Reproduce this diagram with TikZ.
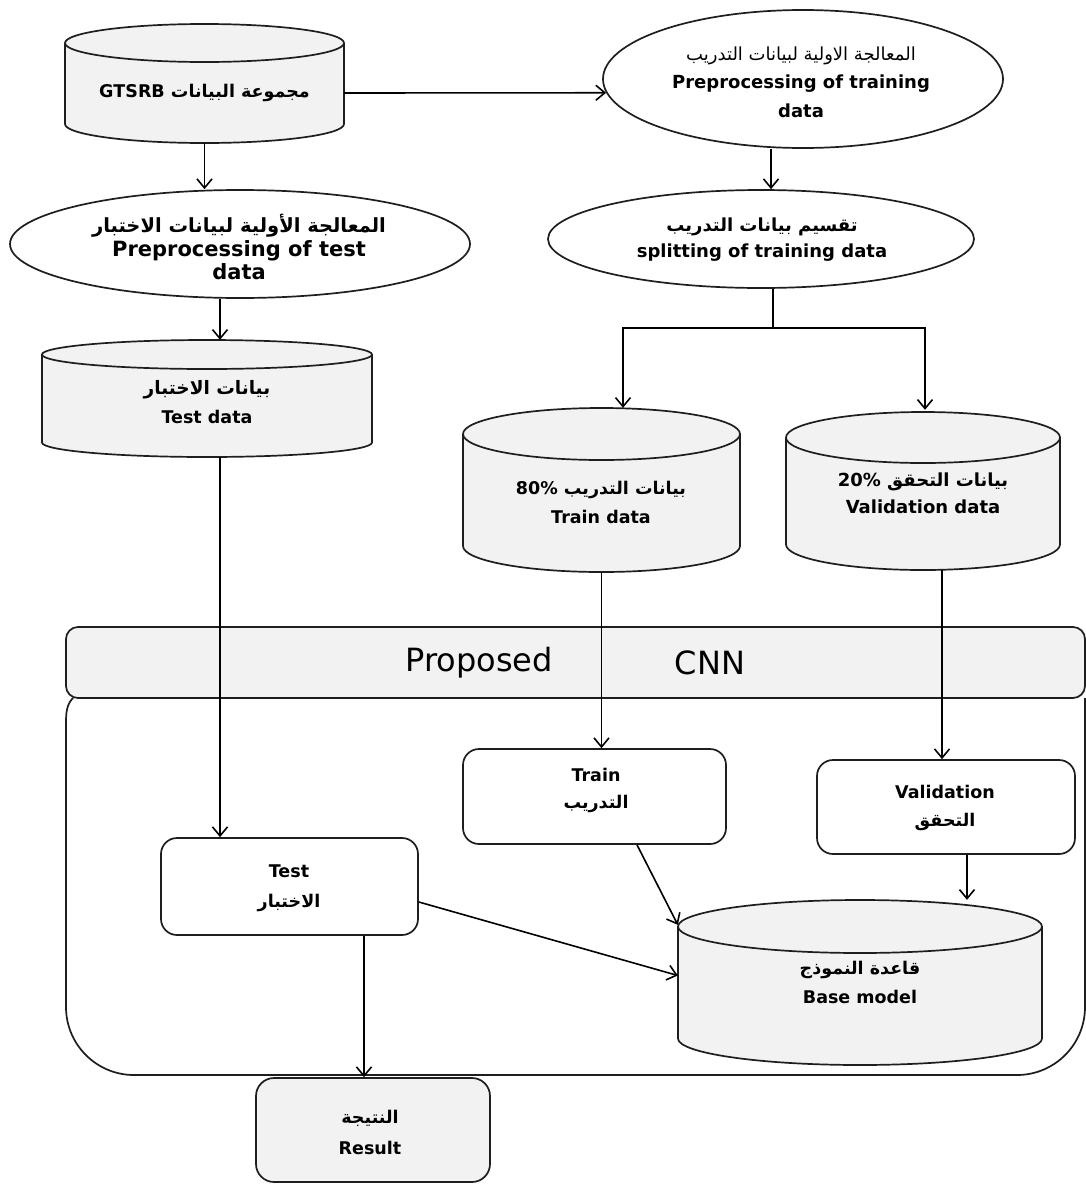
\documentclass[tikz,border=0pt]{standalone}
\usepackage{fontspec}
\setmainfont{DejaVu Sans}
\newfontfamily\arfont[Script=Arabic]{DejaVu Sans}
\TeXXeTstate=1
\usetikzlibrary{arrows.meta,shapes.geometric}
\definecolor{cylgray}{HTML}{F2F2F2}
\definecolor{edge}{HTML}{1E1E1E}
\newcommand{\dbcyl}[6]{%
 \pgfmathsetmacro\cL{#2-#5}%
 \pgfmathsetmacro\cR{#2+#5}%
 \pgfmathsetmacro\cT{#3+#6}%
 \pgfmathsetmacro\cB{#4-#6}%
 \pgfmathsetmacro\kx{0.5523*#5}%
 \pgfmathsetmacro\ky{0.5523*#6}%
 \pgfmathsetmacro\cW{2*#5}%
 \pgfmathsetmacro\cH{#4-#3}%
 \pgfmathsetmacro\cM{(#3+#4)/2}%
 \pgfmathsetmacro\cE{#3+2*#6}%
 \filldraw[cylstyle] (\cL,\cT) -- (\cL,\cB) .. controls (\cL,{\cB+\ky}) and ({#2-\kx},#4) .. (#2,#4) .. controls ({#2+\kx},#4) and (\cR,{\cB+\ky}) .. (\cR,\cB) -- (\cR,\cT) .. controls (\cR,{\cT-\ky}) and ({#2+\kx},#3) .. (#2,#3) .. controls ({#2-\kx},#3) and (\cL,{\cT-\ky}) .. cycle;
 \draw[cylstyle,fill=none] (\cL,\cT) .. controls (\cL,{\cT+\ky}) and ({#2-\kx},\cE) .. (#2,\cE) .. controls ({#2+\kx},\cE) and (\cR,{\cT+\ky}) .. (\cR,\cT);
 \node[inner sep=0pt, minimum width=\cW pt, minimum height=\cH pt] (#1) at (#2,\cM) {};
}
\begin{document}
\begin{tikzpicture}[x=1pt,y=-1pt,
  cylstyle/.style={draw=edge, line width=1.7pt, fill=cylgray},
  ell/.style={ellipse, draw=edge, line width=1.7pt, fill=white, inner sep=0pt},
  rbox/.style={rectangle, rounded corners=16pt, draw=edge, line width=1.7pt, fill=white, inner sep=0pt},
  txt/.style={align=center, inner sep=0pt, font=\bfseries\fontsize{17.5}{29}\selectfont},
  lnk/.style={draw=black, line width=1.6pt},
  arr/.style={lnk, -{Straight Barb[length=9pt,width=15pt,line width=1.6pt]}},
  frame/.style={draw=edge, line width=1.7pt}]
\useasboundingbox[fill=white] (0,0) rectangle (1086,1184);

% container
\draw[frame] (73,698) .. controls (67,704) and (66,712) .. (66,722) [rounded corners=68pt] -- (66,1075) -- (1085,1075) -- (1085,698);
\node[rectangle, rounded corners=12pt, draw=edge, line width=1.7pt, fill=cylgray, minimum width=1019pt, minimum height=71pt, inner sep=0pt] (hdr) at (575.5,662.5) {};
\node[inner sep=0pt, font=\fontsize{32}{36}\selectfont] (prop) at (479,663) {Proposed};
\node[inner sep=0pt, font=\fontsize{32}{36}\selectfont] (cnn) at (710,663) {CNN};

% cylinders
\dbcyl{gtsrb}{204.5}{24}{143}{139.5}{19}
\dbcyl{testdata}{207}{340}{457}{165}{14.5}
\dbcyl{traindata}{601.5}{408}{572}{138.5}{26}
\dbcyl{valdata}{923}{412}{570}{137}{25.5}
\dbcyl{base}{860}{900}{1065}{182}{26.5}

% ellipses
\node[ell, minimum width=460pt, minimum height=108pt] (testpre) at (240,244) {};
\node[ell, minimum width=400pt, minimum height=138pt] (trainpre) at (803,79) {};
\node[ell, minimum width=426pt, minimum height=98pt] (split) at (761,239) {};

% boxes
\node[rbox, minimum width=263pt, minimum height=95pt] (trainbox) at (594.5,796.5) {};
\node[rbox, minimum width=258pt, minimum height=94pt] (valbox) at (946,807) {};
\node[rbox, minimum width=257pt, minimum height=97pt] (testbox) at (289.5,886.5) {};
\node[rbox, rounded corners=18pt, fill=cylgray, minimum width=234pt, minimum height=104pt] (result) at (373,1130) {};

% texts
\node[txt] (gtsrbtxt) at (204.5,93) {{\arfont\beginR مجموعة البيانات \beginL GTSRB\endL\endR}};
\node[txt, font=\bfseries\fontsize{21}{23.5}\selectfont] (testpretxt) at (239,247) {{\arfont\fontsize{19.5}{23.5}\selectfont\beginR المعالجة الأولية لبيانات الاختبار\endR}\\Preprocessing of test\\data};
\node[txt, font=\bfseries\fontsize{18}{28.5}\selectfont] (trainpretxt) at (801,82) {{\arfont\mdseries\beginR المعالجة الاولية لبيانات التدريب\endR}\\Preprocessing of training\\data};
\node[txt, font=\bfseries\fontsize{18}{26}\selectfont] (splittxt) at (762,240) {{\arfont\beginR تقسيم بيانات التدريب\endR}\\splitting of training data};
\node[txt] (testdatatxt) at (207,402) {{\arfont\fontsize{18.5}{29}\selectfont\beginR بيانات الاختبار\endR}\\Test data};
\node[txt] (traindatatxt) at (601,502.5) {{\arfont\beginR بيانات التدريب \beginL 80\%\endL\endR}\\Train data};
\node[txt, font=\bfseries\fontsize{18}{27}\selectfont] (valdatatxt) at (923,493.5) {{\arfont\beginR بيانات التحقق \beginL 20\%\endL\endR}\\Validation data};
\node[txt, font=\bfseries\fontsize{17.5}{27}\selectfont] (trainboxtxt) at (596,790) {Train\\{\arfont\beginR التدريب\endR}};
\node[txt, font=\bfseries\fontsize{17.5}{28}\selectfont] (valboxtxt) at (945,808) {Validation\\{\arfont\beginR التحقق\endR}};
\node[txt, font=\bfseries\fontsize{17.5}{30}\selectfont] (testboxtxt) at (289,888) {Test\\{\arfont\beginR الاختبار\endR}};
\node[txt] (basetxt) at (860,982.5) {{\arfont\beginR قاعدة النموذج\endR}\\Base model};
\node[txt, font=\bfseries\fontsize{17.5}{31}\selectfont] (resulttxt) at (370,1132.5) {{\arfont\beginR النتيجة\endR}\\Result};

% connectors
\draw[arr] (gtsrb.east |- gtsrbtxt) -- (trainpre.184);
\draw[arr] (gtsrb.south) -- (gtsrb.south |- testpre.north);
\coordinate (tdx) at ([xshift=13pt]testdata.north);
\draw[arr] (testpre.south -| tdx) -- (tdx);
\draw[arr] (testdata.south -| tdx) -- (testbox.north -| tdx);
\coordinate (tpx) at ([xshift=-32pt]trainpre.south);
\draw[arr] (tpx) -- (tpx |- split.north);
\coordinate (sp) at ([xshift=12pt]split.south);
\coordinate (fork) at ([xshift=12pt,yshift=-39pt]split.south);
\coordinate (trL) at ([xshift=21.5pt]traindata.north);
\coordinate (vaL) at ([xshift=2pt,yshift=2pt]valdata.north);
\draw[lnk] (sp) -- (fork);
\draw[arr] (fork) -| (trL);
\draw[arr] (fork) -| (vaL);
\draw[arr] (traindata.south) -- (traindata.south |- trainbox.north);
\coordinate (vdx) at ([xshift=19pt]valdata.south);
\draw[arr] (vdx) -- (vdx |- valbox.north);
\draw[arr] ([xshift=42.5pt]trainbox.south) -- ([yshift=-25pt]base.north west);
\coordinate (vbo) at ([xshift=21pt]valbox.south);
\draw[arr] (vbo) -- (vbo |- base.north);
\draw[arr] ([yshift=-15.5pt]testbox.east) -- ([yshift=7pt]base.west);
\coordinate (tbo) at ([xshift=74.5pt]testbox.south);
\draw[arr] (tbo) -- (tbo |- result.north);
\end{tikzpicture}
\end{document}
